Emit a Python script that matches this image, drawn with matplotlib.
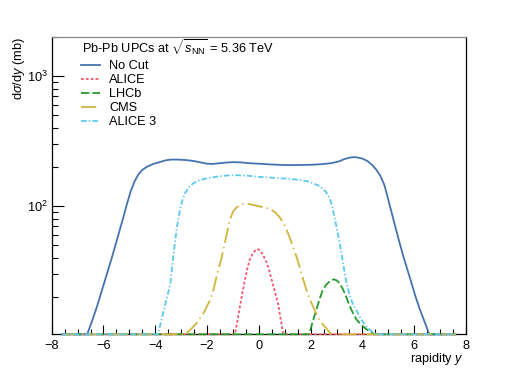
import numpy as np
import matplotlib
matplotlib.use("Agg")
import matplotlib.pyplot as plt
from matplotlib.ticker import MultipleLocator, LogLocator, NullFormatter, FixedLocator

plt.rcParams['font.family'] = ['Liberation Sans', 'DejaVu Sans']
plt.rcParams['mathtext.fontset'] = 'custom'
plt.rcParams['mathtext.rm'] = 'Liberation Sans'
plt.rcParams['mathtext.it'] = 'Liberation Sans:italic'
plt.rcParams['mathtext.bf'] = 'Liberation Sans:bold'
plt.rcParams['lines.scale_dashes'] = False

# values (rapidity, dsigma/dy in mb); 0 = below the axis
y_nocut = [-7.6, -6.8, -6.63, -6.45, -6.25, -6.05, -5.85, -5.65, -5.45, -5.25, -5.1, -4.95, -4.8,
           -4.65, -4.5, -4.3, -4.05, -3.8, -3.6, -3.4, -3.1, -2.8, -2.5, -2.2, -2.0, -1.8, -1.6,
           -1.3, -1.0, -0.7, -0.4, 0.0, 0.5, 1.0, 1.5, 2.0, 2.4, 2.8, 3.1, 3.3, 3.5, 3.65, 3.8,
           4.0, 4.2, 4.4, 4.55, 4.7, 4.85, 5.0, 5.15, 5.3, 5.45, 5.6, 5.75, 5.9, 6.05, 6.2, 6.35,
           6.5, 6.58, 6.8, 7.6]
s_nocut = [0, 0, 10.4, 13, 17, 23, 31, 42, 58, 80, 103, 130, 155,
           176, 190, 202, 212, 219, 225, 228, 228, 226, 222, 216, 212, 211, 213,
           216, 218, 217, 214, 212, 209, 207, 207, 208, 210, 214, 221, 230, 236, 238, 237,
           232, 222, 205, 189, 170, 145, 112, 86, 66, 51, 40, 32, 25.5, 20.3, 16.5, 13.8,
           11.5, 10.4, 0, 0]

y_alice = [-7.6, -1.1, -0.92, -0.82, -0.73, -0.63, -0.54, -0.45, -0.35, -0.22, -0.07, 0.04, 0.17,
           0.3, 0.4, 0.5, 0.62, 0.74, 0.82, 0.87, 0.94, 1.1, 7.6]
s_alice = [0, 0, 10.4, 13.5, 17, 22, 27, 33, 39, 44, 47, 46, 42,
           37, 32, 27, 22, 18, 14.5, 12.7, 10.4, 0, 0]

y_lhcb = [-7.6, 1.8, 1.94, 2.08, 2.22, 2.35, 2.47, 2.6, 2.73, 2.88, 3.0, 3.12, 3.25, 3.37, 3.5,
          3.63, 3.76, 3.9, 4.01, 4.2, 4.46, 4.6, 7.6]
s_lhcb = [0, 0, 10.4, 13, 16, 19.5, 22.8, 25, 26.4, 27.5, 27, 25.6, 23, 20.3, 17.3,
          15.2, 13.6, 12.6, 12, 11.2, 10.4, 0, 0]

y_cms = [-7.6, -3.0, -2.85, -2.6, -2.4, -2.14, -1.88, -1.75, -1.63, -1.5, -1.37, -1.25, -1.12,
         -1.0, -0.86, -0.7, -0.47, -0.2, 0.1, 0.3, 0.49, 0.65, 0.81, 0.95, 1.07, 1.2, 1.32,
         1.45, 1.58, 1.7, 1.83, 1.96, 2.09, 2.22, 2.35, 2.48, 2.6, 2.8, 3.0, 7.6]
s_cms = [0, 0, 10.4, 11.5, 12.7, 15.1, 19.1, 23, 29, 36, 46, 60, 78,
         91, 98, 103, 105, 102, 99, 97, 94, 89, 82, 74, 66, 57, 49,
         41, 34, 28, 23, 19.5, 17, 15, 13.4, 12.3, 11.6, 10.4, 0, 0]

y_alice3 = [-7.6, -4.1, -3.9, -3.7, -3.55, -3.42, -3.3, -3.17, -3.04, -2.95, -2.85, -2.7, -2.53,
            -2.3, -2.0, -1.6, -1.25, -0.9, -0.5, 0.0, 0.4, 0.8, 1.2, 1.6, 1.9, 2.1, 2.3, 2.47,
            2.6, 2.73, 2.83, 2.92, 3.02, 3.12, 3.22, 3.31, 3.4, 3.5, 3.62, 3.76, 3.95, 4.14,
            4.35, 4.53, 4.7, 7.6]
s_alice3 = [0, 0, 10.4, 15, 20, 25, 42, 68, 95, 112, 126, 140, 150,
            158, 164, 169, 172, 173, 172, 168, 166, 164, 162, 159, 155, 150, 144, 136,
            128, 116, 100, 83, 66, 52, 40, 31, 25, 21, 18, 16, 13.5, 12,
            11, 10.4, 0, 0]

labels = ['No Cut', 'ALICE', 'LHCb', 'CMS', 'ALICE 3']
colors = ['#4573b0', '#f7566c', '#259a2b', '#d2b53c', '#5cc9f0']

ymin, ymax = 10.4, 2000

fig = plt.figure(figsize=(5.18, 3.72), dpi=100)
ax = fig.add_axes([51.7 / 518, 1 - 334.3 / 372, (466 - 51.7) / 518, (334.3 - 36.7) / 372])

series = [(y_nocut, s_nocut, '-'),
          (y_alice, s_alice, (0, (2.0, 1.5))),
          (y_lhcb, s_lhcb, (0, (6.0, 2.2))),
          (y_cms, s_cms, (0, (11.0, 3.0, 1.0, 3.0))),
          (y_alice3, s_alice3, (0, (4.0, 1.6, 1.0, 1.6)))]

for (xs, vs, ls), lab, c in zip(series, labels, colors):
    # ROOT draws empty bins along the bottom of the frame
    vals = np.clip(np.array(vs, dtype=float), ymin, None)
    ax.plot(xs, vals, color=c, lw=1.3, ls=ls, label=lab, clip_on=False, zorder=3)

ax.set_yscale('log')
ax.set_xlim(-8, 8)
ax.set_ylim(ymin, ymax)

ax.xaxis.set_major_locator(MultipleLocator(2))
ax.xaxis.set_minor_locator(MultipleLocator(0.5))
ax.yaxis.set_major_locator(FixedLocator([100, 1000]))
ax.yaxis.set_major_formatter(plt.FuncFormatter(lambda v, p: r'$10^{%d}$' % round(np.log10(v))))
ax.yaxis.set_minor_locator(LogLocator(base=10, subs=np.arange(2, 10)))
ax.yaxis.set_minor_formatter(NullFormatter())
ax.xaxis.set_major_formatter(plt.FuncFormatter(lambda v, p: ('%d' % v).replace('-', '\u2212')))

ax.tick_params(axis='both', which='both', direction='in', top=False, right=False,
               labelsize=9.2, colors='black', width=0.8)
ax.tick_params(axis='x', which='major', length=6.5, pad=4)
ax.tick_params(axis='x', which='minor', length=3.3)
ax.tick_params(axis='y', which='major', length=8.6, pad=3)
ax.tick_params(axis='y', which='minor', length=4.3)
for sp in ax.spines.values():
    sp.set_linewidth(0.9)
ax.spines['top'].set_color('#888888')

ax.set_xlabel(r'rapidity $y$', fontsize=9.2, ha='right', va='top')
ax.xaxis.set_label_coords(0.995, -0.055)
ax.set_ylabel(r'd$\sigma$/d$y$ (mb)', fontsize=9.2, ha='right')
ax.yaxis.set_label_coords(-0.06, 1.0)

fig.text(81.7 / 518, 1 - 54 / 372, r'Pb-Pb UPCs at $\sqrt{s_{\mathrm{NN}}}$ = 5.36 TeV',
         fontsize=9.2, ha='left', va='baseline')
leg = ax.legend(loc='upper left', bbox_to_anchor=(81 / 518, 1 - 60 / 372),
                bbox_transform=fig.transFigure, frameon=False, fontsize=9.2,
                borderpad=0, borderaxespad=0,
                handlelength=1.5, handletextpad=0.7, labelspacing=0.16)

fig.savefig('out.png', dpi=100)
